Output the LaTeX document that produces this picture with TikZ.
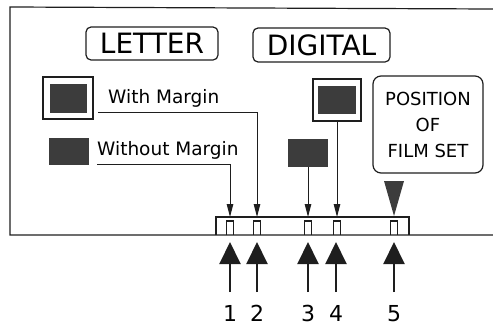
\documentclass[tikz,border=0pt]{standalone}
\usepackage{fontspec}
\setmainfont{DejaVu Sans}
\usetikzlibrary{arrows.meta}
\definecolor{ink}{HTML}{1E1E1E}
\definecolor{darkfill}{HTML}{3C3C3C}
\begin{document}
\begin{tikzpicture}[x=1pt,y=-1pt,
  ln/.style={draw=ink, line width=1.2pt},
  rbox/.style={draw=ink, line width=1.2pt, rounded corners=5pt, inner sep=0pt},
  sq/.style={fill=darkfill, inner sep=0pt},
  frm/.style={draw=ink, line width=1.2pt, inner sep=0pt},
  darr/.style={draw=ink, line width=1pt, -{Triangle[length=13pt,width=6.5pt]}},
  uarr/.style={draw=ink, line width=2pt, -{Triangle[length=22pt,width=21pt]}},
  lbl/.style={inner sep=0pt, anchor=west, font=\fontsize{18.5}{20}\selectfont},
  num/.style={inner sep=0pt, font=\fontsize{22}{24}\selectfont}
]
\useasboundingbox (0,0) rectangle (493,327);

% outer frame
\draw[ln] (493,9) -- (10,7) -- (10,235) -- (493,235);
\draw[ln] (216,235) -- (216,217) -- (409,217) -- (409,235);
\foreach \x in {230,257,308,337,394}{
  \draw[ln] (\x-3.5,235) -- (\x-3.5,221) -- (\x+3.5,221) -- (\x+3.5,235);
}

% title boxes
\node[rbox, minimum width=132pt, minimum height=33pt, font=\fontsize{28}{30}\selectfont] (letter) at (152,43.5) {LETTER};
\node[rbox, minimum width=137pt, minimum height=34pt, font=\fontsize{28}{30}\selectfont] (digital) at (321.5,45) {DIGITAL};

% left samples
\node[frm, minimum width=50pt, minimum height=42pt] (wmL) at (68,98) {};
\node[sq, minimum width=37pt, minimum height=29pt] (wmLin) at (wmL) {};
\node[sq, minimum width=40pt, minimum height=27pt] (woL) at (69,151.5) {};
\node[lbl] (wmtext) at (108,98) {With Margin};
\node[lbl] (wotext) at (97,150) {Without Margin};

% right samples
\node[frm, minimum width=48pt, minimum height=42pt] (wmR) at (337,100) {};
\node[sq, minimum width=38pt, minimum height=28pt] (wmRin) at (wmR) {};
\node[sq, minimum width=40pt, minimum height=28pt] (woR) at (308,153) {};

% position box
\node[rbox, rounded corners=8pt, minimum width=110pt, minimum height=97pt, align=center,
  font=\fontsize{18}{26}\selectfont] (pos) at (428,124.5) {POSITION\\OF\\FILM SET};
\fill[darkfill] (384,181) -- (404,181) -- (394,216) -- cycle;

% targets on the bump
\coordinate (t1) at (230,217);
\coordinate (t2) at (257,217);
\coordinate (t3) at (308,217);
\coordinate (t4) at (337,217);
\coordinate (wmU) at (98,112);
\coordinate (woU) at (97,164);

\draw[darr] (wmU) -| (t2);
\draw[darr] (woU) -| (t1);
\draw[darr] (woR.south) -- (t3);
\draw[darr] (wmR.south) -- (t4);

% numbered up arrows
\foreach \i/\x in {1/230,2/257,3/308,4/336,5/394}{
  \node[num] (n\i) at (\x,313.5) {\i};
  \coordinate (s\i) at (\x,292);
  \coordinate (u\i) at (\x,242);
  \draw[uarr] (s\i) -- (u\i);
}
\end{tikzpicture}
\end{document}
